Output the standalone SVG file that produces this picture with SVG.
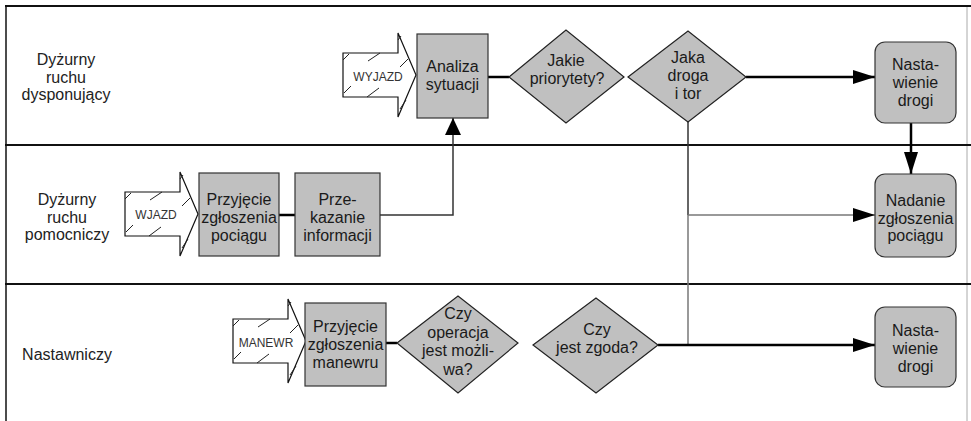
<svg xmlns="http://www.w3.org/2000/svg" width="971" height="421" viewBox="0 0 971 421">
<defs>
<style>
text{font-family:"Liberation Sans",Arial,sans-serif;font-size:16px;fill:#1a1a1a;text-anchor:middle}
.lane{fill:#222}
.small{font-size:12px;fill:#333}
.box{fill:#c0c0c0;stroke:#333;stroke-width:1.2}
.dia{fill:#c0c0c0;stroke:#222;stroke-width:1.2}
.arr{fill:#fff;stroke:#111;stroke-width:1.2}
.hatch{stroke:#222;stroke-width:1;fill:none}
.div{stroke:#111;stroke-width:2;fill:none}
.thick{stroke:#000;stroke-width:2.5;fill:none}
.thin{stroke:#333;stroke-width:1.5;fill:none}
.gray{stroke:#777;stroke-width:1.5;fill:none}
</style>
<g id="inArrow">
<polygon class="arr" points="0,0 55,0 55,-20 73,22 55,64 55,44 0,44"/>
<path class="hatch" d="M0,7 L6,1 M25,8 L37,0 M57,14 L65,6 M55,-13 L58,-17 M1,40 L8,33 M24,44 L36,35 M57,56 L63,47"/>
</g>
<marker id="ah" viewBox="0 0 22 14" refX="22" refY="7" markerWidth="22" markerHeight="14" markerUnits="userSpaceOnUse" orient="auto">
<path d="M0,0 L22,7 L0,14 Z" fill="#000"/>
</marker>
<marker id="ahs" viewBox="0 0 17 16" refX="17" refY="8" markerWidth="17" markerHeight="16" markerUnits="userSpaceOnUse" orient="auto">
<path d="M0,0 L17,8 L0,16 Z" fill="#000"/>
</marker>
</defs>
<rect width="971" height="421" fill="#fff"/>

<g id="lanes">
<line x1="967" y1="6" x2="967" y2="421" stroke="#aaa" stroke-width="1"/>
<line class="div" x1="5" y1="6" x2="971" y2="6"/>
<line class="div" x1="5" y1="145" x2="971" y2="145"/>
<line class="div" x1="5" y1="284" x2="971" y2="284"/>
<line x1="6" y1="5" x2="6" y2="421" stroke="#111" stroke-width="1.5"/>
<text class="lane" x="66" y="65">Dyżurny</text>
<text class="lane" x="66" y="82.5">ruchu</text>
<text class="lane" x="66" y="100">dysponujący</text>
<text class="lane" x="67" y="205">Dyżurny</text>
<text class="lane" x="67" y="222.5">ruchu</text>
<text class="lane" x="67" y="240">pomocniczy</text>
<text class="lane" x="67" y="360">Nastawniczy</text>
</g>

<g id="connectors">
<line class="thick" x1="488" y1="77" x2="509" y2="77"/>
<line class="thick" x1="746" y1="77" x2="875" y2="77" marker-end="url(#ah)"/>
<line class="thick" x1="911" y1="123" x2="911" y2="174" marker-end="url(#ah)"/>
<line class="thick" x1="279" y1="215" x2="295" y2="215"/>
<polyline class="thin" points="380,215 453,215 453,118" marker-end="url(#ahs)"/>
<line class="thin" x1="688" y1="122" x2="688" y2="215"/>
<line class="gray" x1="688" y1="215" x2="688" y2="345"/>
<line class="gray" x1="688" y1="215" x2="875" y2="215" marker-end="url(#ah)"/>
<line class="thick" x1="386" y1="343" x2="397" y2="343"/>
<line class="thick" x1="658" y1="345" x2="875" y2="345" marker-end="url(#ah)"/>
</g>

<g id="wyjazd">
<use href="#inArrow" transform="translate(343,53)"/>
<text class="small" x="378" y="81">WYJAZD</text>
</g>
<g id="analiza">
<rect class="box" x="417" y="34" width="71" height="84"/>
<text x="452.5" y="72">Analiza</text>
<text x="452.5" y="90">sytuacji</text>
</g>
<g id="jakie-priorytety">
<polygon class="dia" points="509,77 566,30 624,77 566,123"/>
<text x="566" y="66">Jakie</text>
<text x="567" y="84">priorytety?</text>
</g>
<g id="jaka-droga">
<polygon class="dia" points="628,77 688,31 746,77 688,122"/>
<text x="688" y="63">Jaka</text>
<text x="688" y="81">droga</text>
<text x="688" y="99">i tor</text>
</g>
<g id="nastawienie-1">
<rect class="box" x="875" y="42" width="81" height="81" rx="10"/>
<text x="915.5" y="70">Nasta-</text>
<text x="915.5" y="88">wienie</text>
<text x="915.5" y="106">drogi</text>
</g>

<g id="wjazd">
<use href="#inArrow" transform="translate(125,192)"/>
<text class="small" x="156" y="219">WJAZD</text>
</g>
<g id="przyjecie-pociagu">
<rect class="box" x="199" y="173" width="80" height="83"/>
<text x="239" y="205">Przyjęcie</text>
<text x="239" y="223">zgłoszenia</text>
<text x="239" y="240.5">pociągu</text>
</g>
<g id="przekazanie">
<rect class="box" x="295" y="173" width="85" height="83"/>
<text x="337.5" y="205">Prze-</text>
<text x="337.5" y="223">kazanie</text>
<text x="337.5" y="240.5">informacji</text>
</g>
<g id="nadanie">
<rect class="box" x="875" y="174" width="81" height="83" rx="10"/>
<text x="915.5" y="206">Nadanie</text>
<text x="915.5" y="223.5">zgłoszenia</text>
<text x="915.5" y="241">pociągu</text>
</g>

<g id="manewr">
<use href="#inArrow" transform="translate(233,319)"/>
<text class="small" x="266" y="347">MANEWR</text>
</g>
<g id="przyjecie-manewru">
<rect class="box" x="305" y="303" width="81" height="83"/>
<text x="345.5" y="332">Przyjęcie</text>
<text x="345.5" y="350">zgłoszenia</text>
<text x="345.5" y="368">manewru</text>
</g>
<g id="czy-operacja">
<polygon class="dia" points="397,343 458,296 518,343 458,393"/>
<text x="458" y="319">Czy</text>
<text x="458" y="337.5">operacja</text>
<text x="458" y="356">jest możli-</text>
<text x="458" y="374.5">wa?</text>
</g>
<g id="czy-zgoda">
<polygon class="dia" points="533,345 596,298 658,345 596,393"/>
<text x="597" y="335">Czy</text>
<text x="597" y="353">jest zgoda?</text>
</g>
<g id="nastawienie-2">
<rect class="box" x="875" y="307" width="81" height="80" rx="10"/>
<text x="915.5" y="336">Nasta-</text>
<text x="915.5" y="354">wienie</text>
<text x="915.5" y="372">drogi</text>
</g>
</svg>
